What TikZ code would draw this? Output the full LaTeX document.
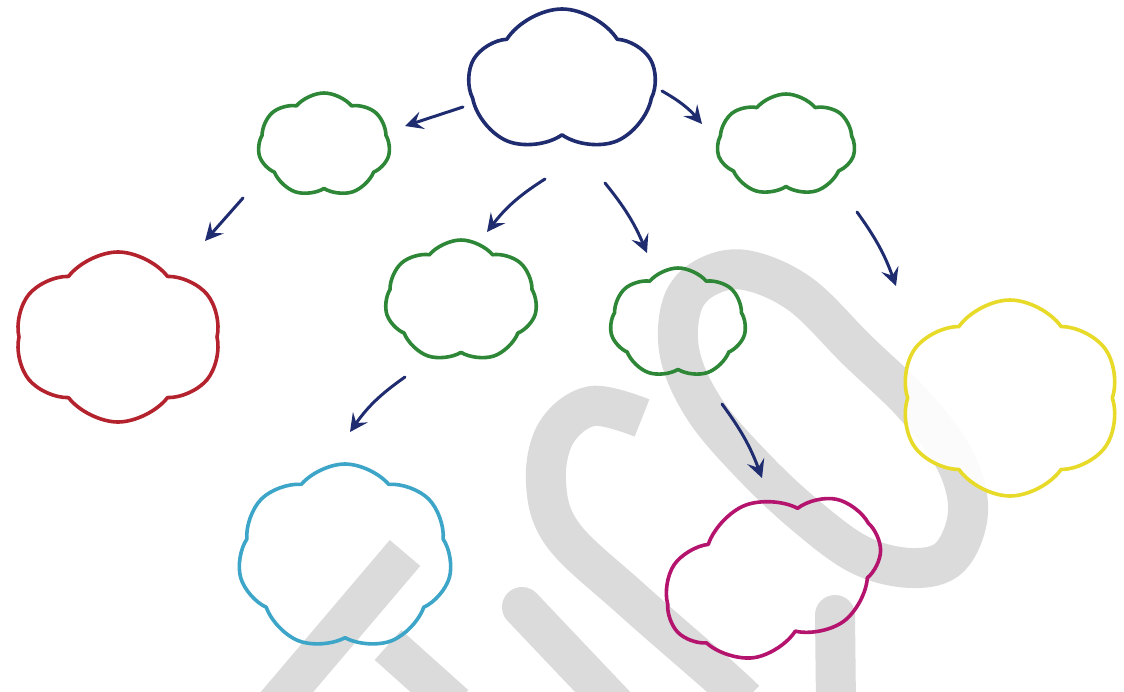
\documentclass[tikz,border=0pt]{standalone}
\usetikzlibrary{shapes.symbols,arrows.meta}
\definecolor{navy}{RGB}{32,44,112}
\definecolor{cgreen}{RGB}{45,135,55}
\definecolor{cred}{RGB}{180,35,45}
\definecolor{ccyan}{RGB}{60,165,200}
\definecolor{cmag}{RGB}{180,20,110}
\definecolor{cyel}{RGB}{232,218,40}
\definecolor{wmgrey}{RGB}{219,219,219}
\begin{document}
\begin{tikzpicture}[x=0.5pt,y=-0.5pt,
  cl/.style={cloud, cloud ignores aspect, draw, line width=1.8pt, inner sep=0pt, line join=round},
  wm/.style={draw=wmgrey, line width=20pt},
  arr/.style={draw=navy, line width=1.5pt, line cap=round, -{Stealth[length=9pt,width=9pt,inset=3.5pt]}}]
\useasboundingbox (0,0) rectangle (1124,691);
\fill[white] (0,0) rectangle (1124,691);
% watermark
\draw[wm] plot[smooth, tension=0.6] coordinates {(642,418) (592,406) (556,433) (546,483) (563,535) (630,598) (718,675) (745,700)};
\draw[wm] plot[smooth cycle, tension=0.6] coordinates {(745,270) (800,294) (857,350) (914,405) (955,460) (968,512) (950,557) (912,568) (860,555) (805,515) (752,465) (705,410) (680,355) (682,305) (705,278)};
\draw[wm, line cap=round] (835,615) -- (836,705);
\draw[wm, line cap=round] (522,607) -- (615,705);
\draw[wm] (405,553) -- (270,712);
\draw[wm] (388,645) -- (455,705);
% clouds
\node[cl, draw=navy, minimum width=93pt, minimum height=73pt, cloud puffs=5, cloud puff arc=115] (blue) at (562,82) {};
\node[cl, draw=cgreen, minimum width=66pt, minimum height=52pt, cloud puffs=7, cloud puff arc=100] (glt) at (324,145) {};
\node[cl, draw=cgreen, minimum width=69pt, minimum height=51pt, cloud puffs=7, cloud puff arc=100] (grt) at (786,145) {};
\node[cl, draw=cred, minimum width=103pt, minimum height=85pt, cloud puffs=6, cloud puff arc=105] (red) at (118,337) {};
\node[cl, draw=cgreen, minimum width=76pt, minimum height=61pt, cloud puffs=7, cloud puff arc=100] (gml) at (461,301) {};
\node[cl, draw=cgreen, minimum width=68pt, minimum height=55pt, cloud puffs=7, cloud puff arc=100] (gmr) at (678,323) {};
\node[cl, draw=cyel, fill=white, fill opacity=0.9, draw opacity=1, minimum width=110pt, minimum height=98pt, cloud puffs=6, cloud puff arc=110] (yel) at (1010,398) {};
\node[cl, draw=ccyan, minimum width=107pt, minimum height=93pt, cloud puffs=7, cloud puff arc=100] (cyan) at (345,557) {};
\node[cl, draw=cmag, minimum width=112pt, minimum height=76pt, cloud puffs=7, cloud puff arc=100, rotate=22] (mag) at (773,576) {};
% arrows
\draw[arr] ([shift={(-99,25)}]blue.center) -- ([shift={(81,-19)}]glt.center);
\draw[arr] ([shift={(100,9)}]blue.center) to[bend left=10] ([shift={(-84,-21)}]grt.center);
\draw[arr] ([shift={(-17,97)}]blue.center) to[bend right=10] ([shift={(26,-69)}]gml.center);
\draw[arr] ([shift={(43,101)}]blue.center) to[bend left=8] ([shift={(-31,-70)}]gmr.center);
\draw[arr] ([shift={(-81,53)}]glt.center) -- ([shift={(87,-96)}]red.center);
\draw[arr] ([shift={(71,67)}]grt.center) to[bend left=8] ([shift={(-114,-112)}]yel.center);
\draw[arr] ([shift={(-56,76)}]gml.center) to[bend right=10] ([shift={(5,-125)}]cyan.center);
\draw[arr] ([shift={(44,81)}]gmr.center) to[bend left=8] ([shift={(-11,-98)}]mag.center);
\end{tikzpicture}
\end{document}
